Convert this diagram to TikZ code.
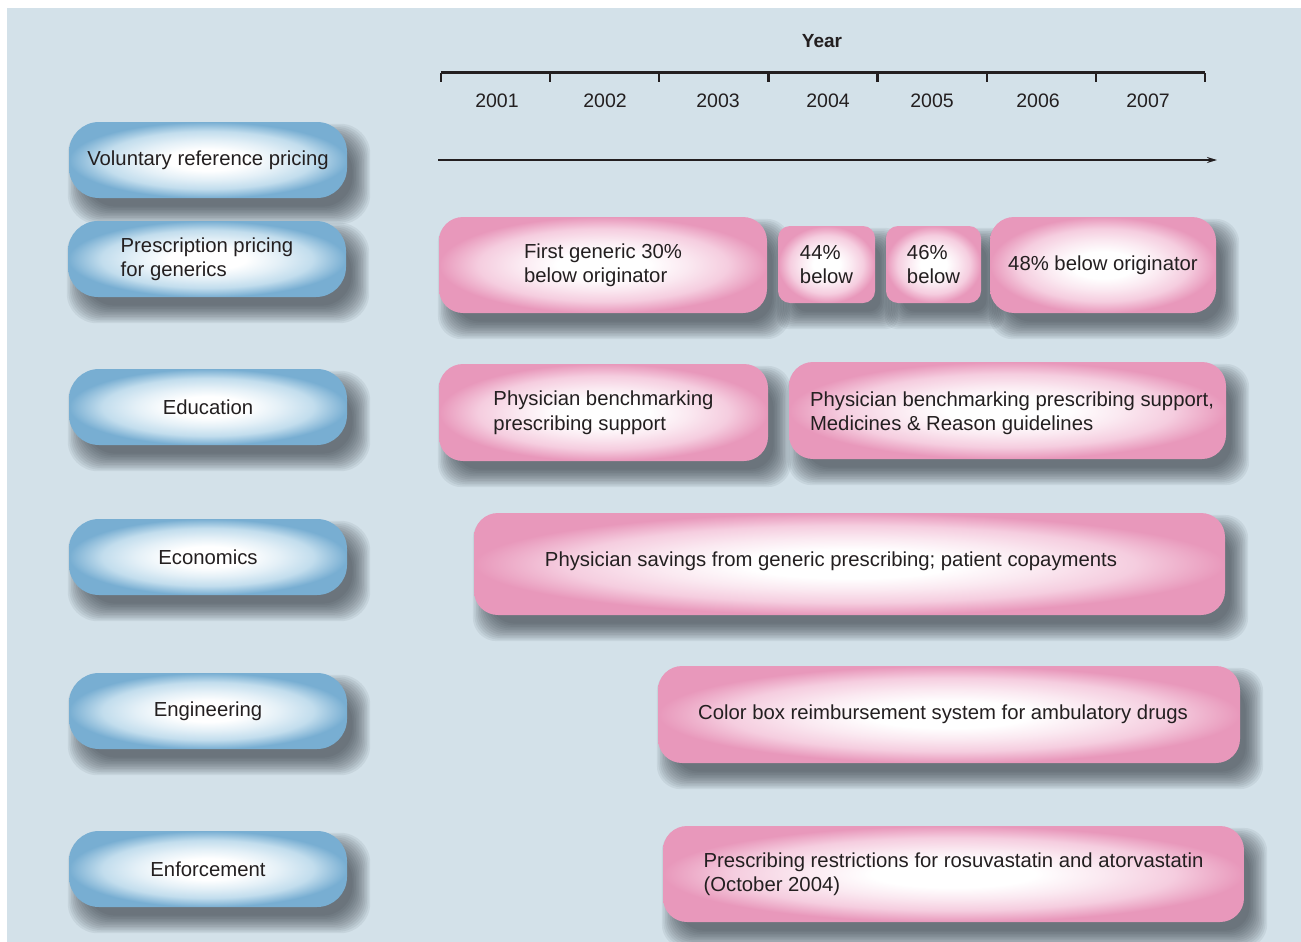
\documentclass[tikz,border=0pt]{standalone}
\usepackage{fontspec}
\setmainfont{Liberation Sans}
\usetikzlibrary{calc,arrows.meta}

\definecolor{bgblue}{RGB}{211,225,233}
\definecolor{pillblue}{RGB}{120,174,210}
\definecolor{pillmid}{RGB}{194,221,237}
\definecolor{pinkedge}{RGB}{232,152,187}
\definecolor{pinkmid}{RGB}{245,205,223}
\definecolor{shadowcol}{RGB}{45,52,60}
\definecolor{inkcol}{RGB}{35,31,32}

% glowing fills: white centre fading to the rim colour
\pgfdeclareradialshading{bluepill}{\pgfpoint{0bp}{0bp}}{color(0bp)=(white); color(7bp)=(white); color(13bp)=(white!55!pillmid); color(19bp)=(pillmid); color(25bp)=(pillblue); color(50bp)=(pillblue)}
\pgfdeclareradialshading{pinkglow}{\pgfpoint{0bp}{0bp}}{color(0bp)=(white); color(7bp)=(white); color(13bp)=(white!55!pinkmid); color(19bp)=(pinkmid); color(25bp)=(pinkedge); color(50bp)=(pinkedge)}

\pgfdeclarelayer{bg}
\pgfdeclarelayer{shd}
\pgfsetlayers{bg,shd,main}

% soft drop shadow behind a named node: #1 node, #2 corner radius
\newcommand\dropshadow[2]{%
  \begin{pgfonlayer}{shd}
    \foreach \k [evaluate=\k as \s using 12-1.6*\k] in {0,...,11}{
      \fill[shadowcol, fill opacity=0.075, rounded corners=#2pt]
        ($(#1.north west)+({11-\s},{14-\s})$) rectangle
        ($(#1.south east)+({11+\s},{14+\s})$);
    }
  \end{pgfonlayer}}

\begin{document}
\begin{tikzpicture}[x=1pt,y=-1pt,
  every node/.style={font=\fontsize{20.3}{24.5}\selectfont, text=inkcol},
  pill/.style={rectangle, rounded corners=30pt, minimum width=278pt,
    minimum height=76pt, shading=bluepill, inner sep=0pt, align=center},
  pinkbox/.style={rectangle, rounded corners=24pt, shading=pinkglow,
    inner sep=0pt, align=left},
  smallbox/.style={pinkbox, rounded corners=12pt},
  yearlab/.style={font=\fontsize{19.5}{22}\selectfont},
  axis/.style={line width=3pt, draw=inkcol},
  tick/.style={line width=2.2pt, draw=inkcol},
  timearrow/.style={line width=1.8pt, draw=inkcol, -{Stealth[length=10pt,width=6pt]}}]

\useasboundingbox (0,0) rectangle (1301,942);
\begin{pgfonlayer}{bg}
  \fill[white] (0,0) rectangle (1301,942);
  \fill[bgblue] (7,8) rectangle (1301,942);
\end{pgfonlayer}

% time axis
\node[font=\bfseries\fontsize{19}{22}\selectfont] (year) at (822,41) {Year};
\foreach \n in {0,...,7} {\coordinate (t\n) at ({441+109.14*\n},73);}
\draw[axis] (t0) -- (t7);
\foreach \n in {0,...,7} {
  \coordinate (b\n) at ($(t\n)+(0,9)$);
  \draw[tick] (t\n) -- (b\n);
}
\foreach \yr/\xx in {2001/497,2002/605,2003/718,2004/828,2005/932,2006/1038,2007/1148}
  {\node[yearlab] (y\yr) at (\xx,101) {\yr};}
\coordinate (a0) at (438,160);
\coordinate (a1) at (1217,160);
\draw[timearrow] (a0) -- (a1);

% policy categories
\node[pill] (vol)  at (208,160) {Voluntary reference pricing};
\node[pill, align=left] (pres) at (207,259) {Prescription pricing\\for generics};
\node[pill] (edu)  at (208,407) {Education};
\node[pill] (eco)  at (208,557) {Economics};
\node[pill] (eng)  at (208,711) {Engineering};
\node[pill] (enf)  at (208,869) {Enforcement};
\foreach \p in {vol,pres,edu,eco,eng,enf} {\dropshadow{\p}{30}}

% measures over time
\node[pinkbox, minimum width=328pt, minimum height=96pt] (pA) at (603,265)
  {First generic 30\%\\below originator};
\node[smallbox, minimum width=97pt, minimum height=77pt] (pB) at (826.5,264.5)
  {44\%\\below};
\node[smallbox, minimum width=95pt, minimum height=77pt] (pC) at (933.5,264.5)
  {46\%\\below};
\node[pinkbox, minimum width=226pt, minimum height=96pt] (pD) at (1103,265)
  {48\% below originator};
\node[pinkbox, minimum width=329pt, minimum height=97pt] (pE) at (603.5,412.5)
  {Physician benchmarking\\prescribing support};
\node[pinkbox, minimum width=437pt, minimum height=97pt] (pF) at (1007.5,410.5) {};
\node[align=left] (pFt) at (1012,413)
  {Physician benchmarking prescribing support,\\Medicines \& Reason guidelines};
\node[pinkbox, minimum width=751pt, minimum height=102pt] (pG) at (849.5,564) {};
\node (pGt) at (831,561) {Physician savings from generic prescribing; patient copayments};
\node[pinkbox, minimum width=582pt, minimum height=97pt] (pH) at (949,714.5) {};
\node (pHt) at (943,714) {Color box reimbursement system for ambulatory drugs};
\node[pinkbox, minimum width=581pt, minimum height=96pt] (pI) at (953.5,874)
  {Prescribing restrictions for rosuvastatin and atorvastatin\\(October 2004)};
\foreach \p in {pA,pD,pE,pF,pG,pH,pI} {\dropshadow{\p}{24}}
\foreach \p in {pB,pC} {\dropshadow{\p}{12}}

\end{tikzpicture}
\end{document}
